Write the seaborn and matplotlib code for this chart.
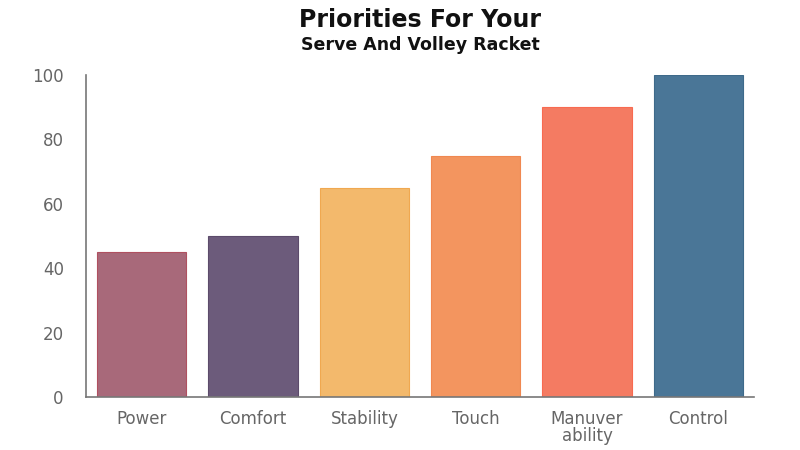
import matplotlib
matplotlib.use("Agg")
import matplotlib.pyplot as plt
import seaborn as sns
import pandas as pd

categories = ["Power", "Comfort", "Stability", "Touch", "Manuver\nability", "Control"]
values = [45, 50, 65, 75, 90, 100]
colors = ["#a8697a", "#6c5b7b", "#f3b96c", "#f3955f", "#f47b62", "#4a7697"]
edge_colors = ["#b05060", "#5c4b6b", "#f0a850", "#f08850", "#f86a50", "#3e6a8a"]
yticks = [0, 20, 40, 60, 80, 100]

sns.set_style("white")
plt.rcParams["font.family"] = ["DejaVu Sans"]

df = pd.DataFrame({"category": categories, "value": values})

fig = plt.figure(figsize=(8, 4.5), dpi=100)
ax = fig.add_axes([86/800, 1 - 397/450, (754-86)/800, (397-75)/450])
sns.barplot(data=df, x="category", y="value", hue="category", palette=colors,
            legend=False, ax=ax, width=0.8, saturation=1)
for patch, ec in zip(ax.patches, edge_colors):
    patch.set_edgecolor(ec)
    patch.set_linewidth(0.8)

ax.set_ylim(0, 100)
ax.set_xlim(-0.5, 5.5)
ax.set_yticks(yticks)
ax.set_xlabel("")
ax.set_ylabel("")
ax.tick_params(axis="both", length=0, labelsize=12, labelcolor="#666666")
ax.tick_params(axis="y", pad=16)
ax.tick_params(axis="x", pad=9)
for lbl in ax.get_xticklabels():
    lbl.set_linespacing(0.95)
sns.despine(ax=ax, top=True, right=True)
for s in ["left", "bottom"]:
    ax.spines[s].set_color("#777777")
    ax.spines[s].set_linewidth(1.2)

fig.text(420/800, 1 - 20/450, "Priorities For Your", ha="center", va="center",
         fontsize=17, fontweight="bold", color="#111111")
fig.text(420/800, 1 - 45/450, "Serve And Volley Racket", ha="center", va="center",
         fontsize=12.5, fontweight="bold", color="#111111")

fig.savefig("out.png", dpi=100)
